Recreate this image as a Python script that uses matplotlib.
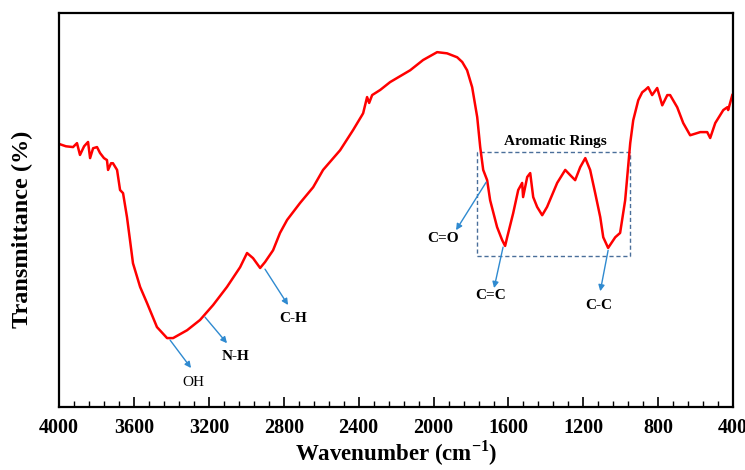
import matplotlib
matplotlib.use("Agg")
import matplotlib.pyplot as plt
from matplotlib.patches import Rectangle

# FTIR spectrum (wavenumber in cm-1, transmittance in arbitrary %)
wavenumber = [4000, 3963, 3925, 3904, 3888, 3866, 3845, 3834, 3818, 3797,
              3781, 3760, 3744, 3738, 3722, 3712, 3690, 3674, 3658, 3637,
              3621, 3605, 3567, 3530, 3477, 3423, 3391, 3316, 3247, 3177,
              3103, 3033, 2996, 2964, 2926, 2900, 2857, 2820, 2782, 2713,
              2643, 2590, 2499, 2430, 2382, 2376, 2355, 2344, 2328, 2285,
              2232, 2125, 2056, 1981, 1928, 1874, 1847, 1821, 1794, 1767,
              1751, 1735, 1714, 1698, 1661, 1634, 1618, 1607, 1575, 1548,
              1527, 1522, 1500, 1484, 1468, 1447, 1420, 1394, 1340, 1297,
              1271, 1244, 1217, 1190, 1164, 1137, 1110, 1094, 1068, 1030,
              1004, 977, 950, 934, 907, 886, 870, 854, 833, 806,
              779, 752, 737, 699, 667, 630, 576, 539, 523, 496,
              453, 432, 427, 405]
transmittance = [66.8, 66.2, 66.0, 67.0, 64.0, 66.2, 67.3, 63.2, 65.7, 66.0,
                 64.5, 63.2, 62.7, 60.2, 61.9, 61.9, 60.2, 55.1, 54.3, 48.2,
                 42.4, 36.5, 30.5, 26.4, 20.3, 17.5, 17.5, 19.5, 22.1, 25.9,
                 30.5, 35.5, 39.1, 37.8, 35.3, 36.8, 39.8, 44.2, 47.5, 51.8,
                 55.8, 60.2, 65.2, 70.3, 74.1, 74.6, 78.7, 77.2, 79.2, 80.5,
                 82.5, 85.5, 88.1, 90.1, 89.8, 88.8, 87.6, 85.5, 81.2, 73.6,
                 66.0, 60.2, 57.6, 52.5, 45.7, 42.4, 40.9, 43.1, 49.2, 55.1,
                 56.9, 53.3, 58.4, 59.4, 53.3, 50.8, 48.7, 50.8, 56.9, 60.2,
                 58.9, 57.6, 60.9, 63.2, 60.2, 54.3, 48.2, 43.1, 40.4, 43.1,
                 44.2, 52.5, 67.0, 72.8, 77.9, 79.9, 80.5, 81.2, 79.2, 81.0,
                 76.6, 79.2, 79.2, 76.1, 72.1, 69.0, 69.8, 69.8, 68.3, 72.1,
                 75.4, 76.1, 75.4, 79.2]

xticks = [4000, 3600, 3200, 2800, 2400, 2000, 1600, 1200, 800, 400]

plt.rcParams['font.family'] = ['Liberation Serif', 'DejaVu Serif']
plt.rcParams['mathtext.fontset'] = 'custom'
plt.rcParams['mathtext.rm'] = 'Liberation Serif'
plt.rcParams['mathtext.bf'] = 'Liberation Serif:bold'

fig = plt.figure(figsize=(7.45, 4.7), dpi=100)
ax = fig.add_axes([0.0792, 0.134, 0.905, 0.838])

ax.plot(wavenumber, transmittance, color='#ff0000', lw=1.8)

ax.set_xlim(4000, 400)
ax.set_ylim(0, 100)
ax.set_xticks(xticks)
ax.set_xticks(range(400, 4001, 80), minor=True)
ax.set_yticks([])
ax.tick_params(axis='x', which='major', direction='in', length=7, width=1.2,
               labelsize=14.5, pad=8)
ax.tick_params(axis='x', which='minor', direction='in', length=4, width=1.0)
for lbl in ax.get_xticklabels():
    lbl.set_fontweight('bold')
for sp in ax.spines.values():
    sp.set_linewidth(1.6)

ax.set_xlabel('Wavenumber (cm$^{\\mathbf{-1}}$)', fontsize=16.5, fontweight='bold')
ax.xaxis.set_label_coords(0.5, -0.08)
ax.set_ylabel('Transmittance (%)', fontsize=17.5, fontweight='bold')
ax.yaxis.set_label_coords(-0.038, 0.452)

arrow = dict(arrowstyle='-|>', color='#2f8ad0', lw=1.0, mutation_scale=9,
             shrinkA=0, shrinkB=0)

def label(txt, start, end, textpos, bold=True):
    ax.annotate('', xy=end, xytext=start, arrowprops=arrow)
    ax.text(textpos[0], textpos[1], txt, ha='center', va='center', fontsize=11,
            fontweight='bold' if bold else 'normal')

label('OH', (3407, 17.0), (3295, 9.9), (3284, 6.3), bold=False)
label('N-H', (3220, 22.8), (3103, 16.2), (3060, 12.9))
label('C-H', (2900, 35.0), (2777, 25.9), (2750, 22.6))
label('C=O', (1719, 57.1), (1880, 44.9), (1949, 42.9))
label('C=C', (1629, 40.6), (1677, 30.2), (1693, 28.2))
label('C-C', (1068, 39.8), (1110, 29.4), (1116, 25.9))

ax.add_patch(Rectangle((1767, 38.3), 950 - 1767, 64.7 - 38.3, fill=False,
                       ls=(0, (3, 2)), lw=1.0, ec='#4a6f9a'))
ax.text(1351, 67.3, 'Aromatic Rings', ha='center', va='center', fontsize=11,
        fontweight='bold')

fig.savefig('out.png', dpi=100)
